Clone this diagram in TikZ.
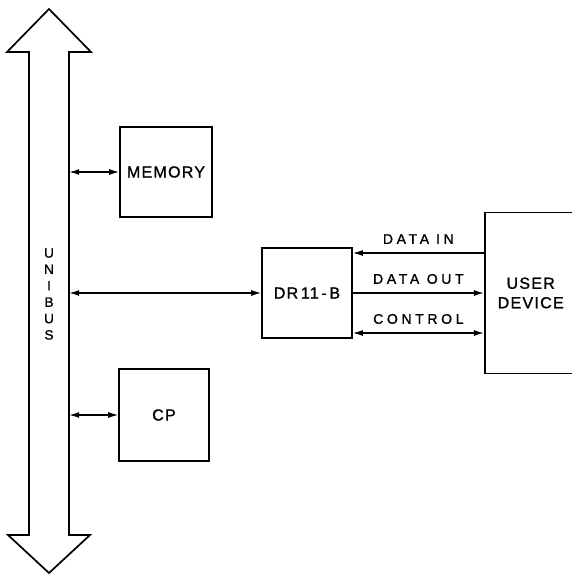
\documentclass[tikz,border=0pt]{standalone}
\usepackage{fontspec}
\setmainfont{Liberation Sans}[LetterSpace=8, FakeBold=1.2]
\newfontfamily\wirefont{Liberation Sans}[LetterSpace=26, FakeBold=1.2]
\usetikzlibrary{arrows.meta,positioning}

\begin{document}
\begin{tikzpicture}[
    x=1pt, y=-1pt,
    box/.style={rectangle, draw, line width=1.7pt, minimum width=92pt, minimum height=90pt, align=center, font=\fontsize{16}{19.5}\selectfont},
    link/.style={{Latex[length=10pt,width=6pt]}-{Latex[length=10pt,width=6pt]}, line width=1.2pt},
    arrow/.style={-{Latex[length=10pt,width=6pt]}, line width=1.2pt},
    wirelabel/.style={above=5.5pt, inner sep=3pt, font=\wirefont\fontsize{14}{16}\selectfont},
    busline/.style={line width=1.7pt, line join=miter},
]
\useasboundingbox (0,0) rectangle (572,575);

% Unibus
\draw[busline] (49,9) -- (91,52) -- (69,52) -- (69,535) -- (90,535) -- (49,573)
    -- (8,535) -- (29,535) -- (29,52) -- (7,52) -- cycle;
\node[minimum width=40pt, minimum height=483pt, inner sep=0pt] (unibus) at (49,293.5) {};
\node[font=\fontsize{13.5}{16.4}\selectfont, align=center] (buslabel) at (49,294) {U\\N\\I\\B\\U\\S};

% Units on the bus
\node[box] (mem) at (166,172) {MEMORY};
\node[box, minimum width=90pt, minimum height=92pt] (cp) at (164,415) {CP};
\node[box, minimum width=90pt] (dr) at (307,293) {DR\,11\,-\,B};

% User device (runs off the right edge)
\node[box, minimum height=161pt, right=131pt of dr] (user) {USER\\DEVICE};

% Bus connections
\draw[link] (unibus.east |- mem.west) -- (mem.west);
\draw[link] (unibus.east |- dr.west) -- (dr.west);
\draw[link] (unibus.east |- cp.west) -- (cp.west);

% Lines between DR11-B and user device
\coordinate (din) at ([yshift=40pt]dr.east);
\coordinate (dout) at (dr.east);
\coordinate (ctrl) at ([yshift=-40pt]dr.east);
\draw[arrow] (din -| user.west) -- node[wirelabel] {DATA\enspace IN} (din);
\draw[arrow] (dout) -- node[wirelabel] {DATA OUT} (dout -| user.west);
\draw[link] (ctrl) -- node[wirelabel] {CONTROL} (ctrl -| user.west);

\end{tikzpicture}
\end{document}
